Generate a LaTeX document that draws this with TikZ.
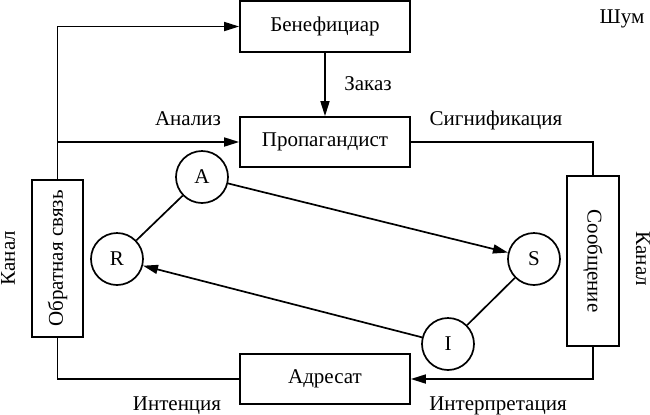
\documentclass[tikz,border=0pt]{standalone}
\usepackage{fontspec}
\setmainfont{Liberation Serif}
\usetikzlibrary{arrows.meta}

\begin{document}
\begin{tikzpicture}[x=0.5pt,y=-0.5pt,line width=0.85pt,font=\fontsize{10.5pt}{12pt}\selectfont]
\tikzstyle{punta} = [-{Triangle[length=7.5pt,width=4.5pt]}]
\tikzstyle{blocco} = [draw, minimum width=85pt, minimum height=25pt]
\tikzstyle{cerchio} = [draw, circle, minimum size=26pt, inner sep=0pt]
\useasboundingbox (0,0) rectangle (650,414);
\node[blocco, minimum height=25.5pt] (ben) at (325,26.5) {Бенефициар};
\node[blocco] (prop) at (325,142) {Пропагандист};
\node[blocco] (adr) at (325,379) {Адресат};
\node[blocco, rotate=90, minimum width=78.5pt, minimum height=25.5pt] (obr) at (57.5,258.5) {Обратная связь};
\node[blocco, rotate=-90, minimum height=26pt] (soob) at (593,261) {Сообщение};
\node[cerchio] (A) at (202,177) {A};
\node[cerchio] (R) at (117,259) {R};
\node[cerchio] (S) at (534,259) {S};
\node[cerchio] (I) at (448,344) {I};
\node[anchor=base] (shum) at (622,23) {Шум};
\node[anchor=base] (zak) at (368,90) {Заказ};
\node[anchor=base] (anal) at (188,125) {Анализ};
\node[anchor=base] (sign) at (496,125) {Сигнификация};
\node[anchor=base] (int) at (177,410) {Интенция};
\node[anchor=base] (interp) at (498,410) {Интерпретация};
\node[rotate=90] (kan1) at (8,258) {Канал};
\node[rotate=-90] (kan2) at (643,259) {Канал};
\draw[punta] (obr.east) |- (ben.west);
\draw[punta] (obr.east |- prop.west) -- (prop.west);
\draw[punta] (ben) -- (prop);
\draw (prop.east) -| (soob.west);
\draw[punta] (soob.east) |- (adr.east);
\draw (adr.west) -| (obr.west);
\draw[punta] (A) -- (S);
\draw (A) -- (R);
\draw (S) -- (I);
\draw[punta] (I) -- (R);
\end{tikzpicture}
\end{document}
